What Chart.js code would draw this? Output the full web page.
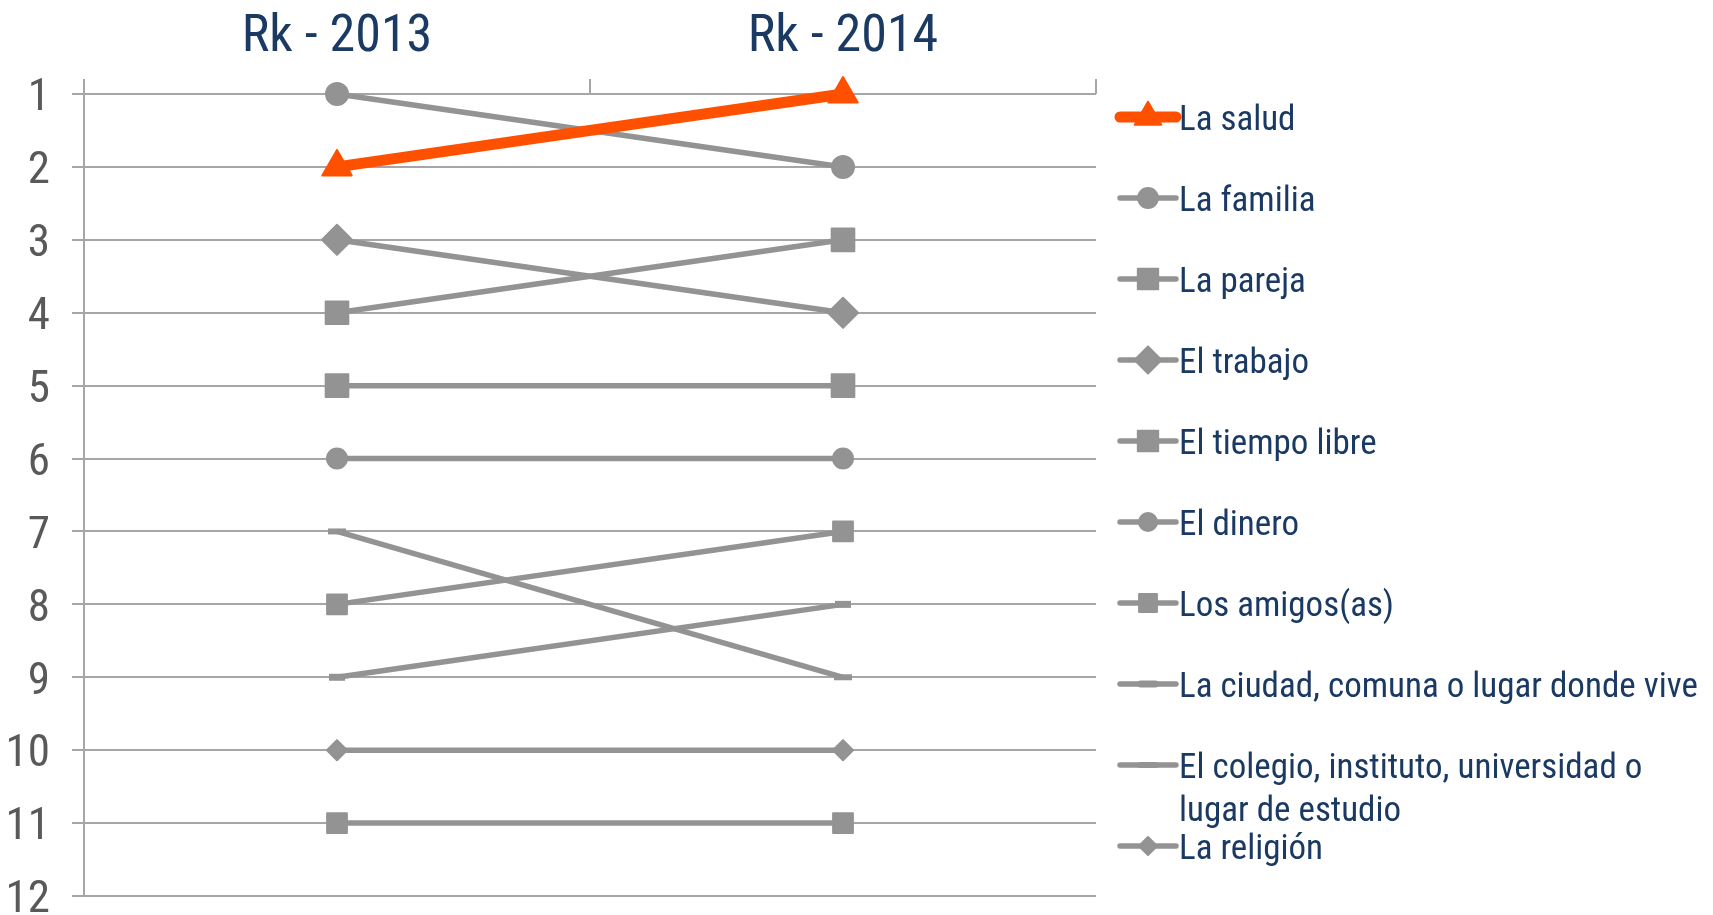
<!DOCTYPE html>
<html><head><meta charset="utf-8">
<script src="https://cdn.jsdelivr.net/npm/chart.js@4/dist/chart.umd.min.js"></script>
<style>html,body{margin:0;padding:0;background:#fff;overflow:hidden}</style>
</head><body>
<canvas id="c" width="1713" height="915" style="display:block;width:1713px;height:915px"></canvas>
<script>
// ---- data ----
const categories = ['Rk - 2013', 'Rk - 2014'];
const rankTicks = [1, 2, 3, 4, 5, 6, 7, 8, 9, 10, 11, 12];
const seriesNames = ['La salud', 'La familia', 'La pareja', 'El trabajo', 'El tiempo libre', 'El dinero',
  'Los amigos(as)', 'La ciudad, comuna o lugar donde vive', 'El colegio, instituto, universidad o lugar de estudio',
  'La religión', 'Serie 11'];
const saludRank = [2, 1];
const familiaRank = [1, 2];
const parejaRank = [4, 3];
const trabajoRank = [3, 4];
const tiempoLibreRank = [5, 5];
const dineroRank = [6, 6];
const amigosRank = [8, 7];
const ciudadRank = [9, 8];
const colegioRank = [7, 9];
const religionRank = [10, 10];
const serie11Rank = [11, 11];

// ---- styles ----
const FONT = "'Liberation Sans Narrow', 'Arial Narrow', 'Roboto Condensed', 'Liberation Sans', sans-serif";
const FW = '400';
const NAVY = '#1B3A63';
const TICKGRAY = '#595959';
const GRID = '#A6A6A6';
const GRAY = '#939393';
const ORANGE = '#FF5000';

function mk(label, data, color, lw, style, r, extra) {
  return Object.assign({
    label, data, borderColor: color, backgroundColor: color,
    borderWidth: lw, pointStyle: style, pointRadius: r, pointHoverRadius: r,
    pointBackgroundColor: color, pointBorderColor: color, pointBorderWidth: 2,
    tension: 0, fill: false, clip: false, legendLineWidth: lw
  }, extra || {});
}

const datasets = [
  mk(seriesNames[0], saludRank, ORANGE, 11, 'triangle', 17, {legendLineWidth: 11}),
  mk(seriesNames[1], familiaRank, GRAY, 5.5, 'circle', 11),
  mk(seriesNames[2], parejaRank, GRAY, 5.5, 'rect', 16),
  mk(seriesNames[3], trabajoRank, GRAY, 5.5, 'rectRot', 15),
  mk(seriesNames[4], tiempoLibreRank, GRAY, 5.5, 'rect', 16),
  mk(seriesNames[5], dineroRank, GRAY, 5.5, 'circle', 10),
  mk(seriesNames[6], amigosRank, GRAY, 5.5, 'rect', 14),
  mk(seriesNames[7], ciudadRank, GRAY, 5.5, 'line', 8, {pointBorderWidth: 7}),
  mk(seriesNames[8], colegioRank, GRAY, 5.5, 'line', 9, {pointBorderWidth: 6}),
  mk(seriesNames[9], religionRank, GRAY, 5.5, 'rectRot', 10),
  mk(seriesNames[10], serie11Rank, GRAY, 5.5, 'rect', 14, {inLegend: false})
];

const roundJoins = {
  id: 'roundJoins',
  beforeDatasetsDraw(chart) { chart.ctx.save(); chart.ctx.lineJoin = 'round'; },
  afterDatasetsDraw(chart) { chart.ctx.restore(); }
};

const sideLegend = {
  id: 'sideLegend',
  afterDraw(chart) {
    const ctx = chart.ctx;
    const ca = chart.chartArea;
    const x0 = ca.right + 24, x1 = x0 + 56, xm = (x0 + x1) / 2, tx = x1 + 3;
    let y = ca.top + 23;
    const maxW = 520;
    ctx.save();
    ctx.font = FW + ' 35px ' + FONT;
    chart.data.datasets.forEach(ds => {
      if (ds.inLegend === false) return;
      ctx.save();
      ctx.lineJoin = 'round';
      ctx.strokeStyle = ds.borderColor;
      ctx.lineWidth = ds.legendLineWidth;
      ctx.lineCap = 'round';
      ctx.beginPath(); ctx.moveTo(x0, y); ctx.lineTo(x1, y); ctx.stroke();
      ctx.fillStyle = ds.pointBackgroundColor;
      ctx.strokeStyle = ds.pointBorderColor;
      ctx.lineWidth = ds.pointBorderWidth;
      Chart.helpers.drawPoint(ctx, {pointStyle: ds.pointStyle, radius: ds.pointRadius * 0.9, borderWidth: ds.pointBorderWidth, rotation: 0}, xm, y);
      ctx.restore();
      ctx.fillStyle = NAVY;
      ctx.textBaseline = 'middle';
      ctx.textAlign = 'left';
      const words = ds.label.split(' ');
      const lines = [];
      let cur = '';
      words.forEach(w => {
        const t = cur ? cur + ' ' + w : w;
        if (ctx.measureText(t).width > maxW && cur) { lines.push(cur); cur = w; } else cur = t;
      });
      lines.push(cur);
      lines.forEach((l, k) => ctx.fillText(l, tx, y + 4 + k * 43));
      y += 81;
    });
    ctx.restore();
  }
};

new Chart(document.getElementById('c'), {
  type: 'line',
  data: { labels: categories, datasets },
  options: {
    responsive: false, animation: false, devicePixelRatio: 1,
    layout: { padding: { left: 0, top: 0, right: 617, bottom: 19 } },
    plugins: { legend: { display: false }, tooltip: { enabled: false } },
    scales: {
      x: {
        type: 'category', position: 'top', offset: true,
        grid: { offset: true, drawOnChartArea: false, drawTicks: true, tickLength: 15, color: GRID, lineWidth: 2 },
        border: { display: false },
        ticks: { color: NAVY, font: { family: FONT, size: 52, weight: FW }, padding: 10, maxRotation: 0, autoSkip: false },
        afterFit(s) { s.height = 94; s.paddingLeft = 0; s.paddingRight = 0; }
      },
      y: {
        min: 1, max: 12, reverse: true,
        afterBuildTicks(s) { s.ticks = rankTicks.map(v => ({ value: v })); },
        ticks: { color: TICKGRAY, font: { family: FONT, size: 45, weight: FW }, padding: 22, labelOffset: 5 },
        grid: { color: GRID, lineWidth: 2, tickLength: 12 },
        border: { color: GRID, width: 2 },
        afterFit(s) { s.width = 84; s.paddingTop = 0; s.paddingBottom = 0; }
      }
    }
  },
  plugins: [roundJoins, sideLegend]
});
</script>
</body></html>
